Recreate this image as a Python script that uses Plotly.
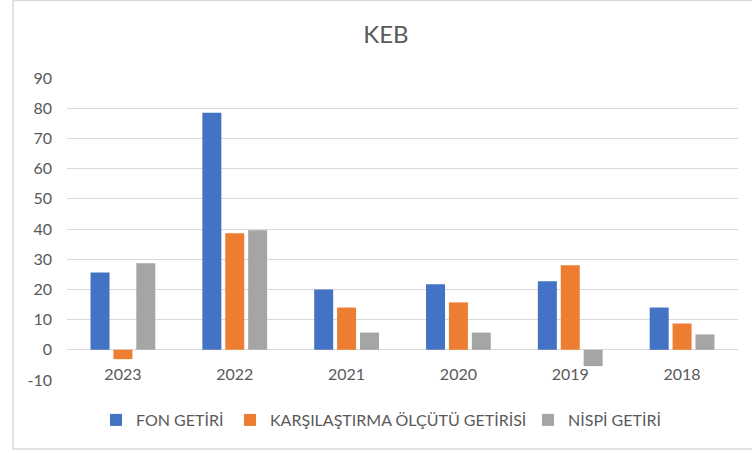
import plotly.graph_objects as go

categories = ["2023", "2022", "2021", "2020", "2019", "2018"]
fon_getiri = [25.6, 78.5, 20.0, 21.7, 22.7, 14.0]
karsilastirma = [-3.1, 38.6, 14.0, 15.7, 28.0, 8.7]
nispi = [28.7, 39.6, 5.7, 5.7, -5.4, 5.1]
series_names = ["FON GETİRİ", "KARŞILAŞTIRMA ÖLÇÜTÜ GETİRİSİ", "NİSPİ GETİRİ"]
colors = ["#4472C4", "#ED7D31", "#A5A5A5"]
y_ticks = [-10, 0, 10, 20, 30, 40, 50, 60, 70, 80, 90]
y_tick_text = [str(v) for v in y_ticks]
y_range = [-10, 90]

FONT = "Lato, Carlito, Calibri, sans-serif"
TXT = "#595959"

# plot area in pixels
PL, PR, PT, PB = 67, 738, 78, 380
PW, PH = PR - PL, PB - PT

legend_ids = ["legend", "legend2", "legend3"]
legend_text_left = [138, 272, 570]

fig = go.Figure()
for name, vals, col, lg in zip(series_names, [fon_getiri, karsilastirma, nispi], colors, legend_ids):
    fig.add_trace(go.Bar(x=categories, y=vals, name=name, legend=lg,
                         marker=dict(color=col, line=dict(width=0))))

zero_pos = (0 - y_range[0]) / (y_range[1] - y_range[0])

layout_legends = {}
for lg, tx in zip(legend_ids, legend_text_left):
    layout_legends[lg] = dict(orientation="h", x=(tx - 42 - PL) / PW, xanchor="left",
                              y=(PB - 420) / PH, yanchor="middle",
                              font=dict(family=FONT, size=16, color=TXT), itemwidth=30,
                              bgcolor="rgba(0,0,0,0)")

fig.update_layout(
    width=752, height=453,
    margin=dict(l=PL, r=752 - PR, t=PT, b=453 - PB, autoexpand=False),
    paper_bgcolor="white", plot_bgcolor="white",
    barmode="group", bargap=0.386, bargroupgap=0.17,
    title=dict(text="KEB", x=386 / 752, xanchor="center", y=1 - 35 / 453, yanchor="middle",
               font=dict(family=FONT, size=24, color=TXT)),
    font=dict(family=FONT, color=TXT),
    showlegend=True,
    **layout_legends,
)
fig.update_xaxes(type="category", categoryorder="array", categoryarray=categories,
                 anchor="free", position=zero_pos, showticklabels=True,
                 showgrid=False, showline=False, ticks="", ticklabelstandoff=13,
                 tickfont=dict(family=FONT, size=16, color=TXT))
fig.update_yaxes(range=y_range, tickvals=y_ticks, ticktext=y_tick_text,
                 showgrid=True, gridcolor="#D9D9D9", gridwidth=1,
                 zeroline=True, zerolinecolor="#D9D9D9", zerolinewidth=1,
                 showline=False, ticks="", ticklabelstandoff=14,
                 tickfont=dict(family=FONT, size=16, color=TXT))

fig.add_shape(type="rect", xref="paper", yref="paper",
              x0=(13 - PL) / PW, x1=(760 - PL) / PW, y0=(PB - 449) / PH, y1=(PB - 0.5) / PH,
              line=dict(color="#D9D9D9", width=1.5), fillcolor="rgba(0,0,0,0)", layer="below")

fig.write_html("out.html", config={"displayModeBar": False},
               post_script="document.body.style.margin='0';")
